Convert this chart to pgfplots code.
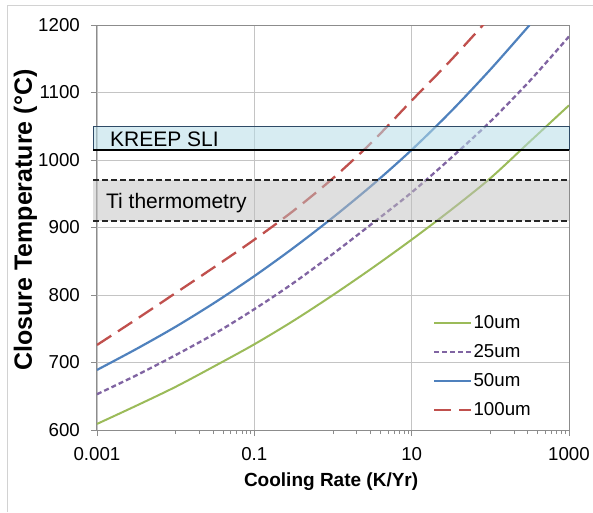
\documentclass[border=0pt]{standalone}
\usepackage{fontspec}
\setmainfont{Liberation Sans}
\usepackage{pgfplots}
\usepackage{pgfplotstable}
\pgfplotsset{compat=1.18}

\definecolor{cgreen}{HTML}{9BBB59}
\definecolor{cpurple}{HTML}{8064A2}
\definecolor{cblue}{HTML}{4F81BD}
\definecolor{cred}{HTML}{C0504D}
\definecolor{kreep}{HTML}{B7DDE8}
\definecolor{kreepedge}{HTML}{2E4A66}
\definecolor{gridc}{HTML}{C4C4C4}
\definecolor{axisc}{HTML}{8C8C8C}

% closure temperature (C) vs cooling rate (K/yr)
\pgfplotstableread{
rate    g10   p25   b50   r100
0.001   609   653   689   726
0.00316 636   681   720   764
0.01    664   711   753   803
0.0316  695   743   789   842
0.1     727   779   828   882
0.316   762   818   870   925
1       800   861   915   973
3.16    840   906   963   1027
10      882   952   1015  1088
31.6    926   1003  1072  1148
100     973   1057  1134  1212
316     1027  1117  1200  nan
1000    1081  1183  nan   nan
}\closure

\begin{document}
\begin{tikzpicture}
\useasboundingbox (-97pt,-82pt) rectangle (496pt,430pt);
\draw[gray!35, line width=0.8pt] (-90pt,-82pt) -- (-90pt,425pt) -- (496pt,425pt);
\begin{axis}[
    at={(0,0)}, anchor=south west,
    scale only axis,
    width=472pt, height=405pt,
    xmode=log,
    xmin=0.001, xmax=1000,
    ymin=600, ymax=1200,
    xtick={0.001,0.1,10,1000},
    xticklabels={0.001,0.1,10,1000},
    minor xtick={0.01,0.02,0.03,0.04,0.05,0.06,0.07,0.08,0.09,
                 1,2,3,4,5,6,7,8,9,100,200,300,400,500,600,700,800,900},
    ytick={600,700,...,1200},
    tick align=outside,
    major tick length=6pt,
    minor tick length=4pt,
    xtick pos=bottom, ytick pos=left,
    tick style={axisc, line width=0.8pt},
    axis line style={axisc, line width=1pt},
    grid=major,
    major grid style={gridc, line width=0.9pt},
    /pgf/number format/assume math mode=true,
    /pgf/number format/1000 sep={},
    ticklabel style={font=\fontsize{18.7}{22}\selectfont, inner sep=0pt},
    yticklabel style={xshift=-11pt},
    xticklabel style={yshift=-11pt},
    xlabel={\bfseries Cooling Rate (K/Yr)},
    xlabel style={at={(axis description cs:0.496,-0.106)}, anchor=north,
                  inner sep=0pt, font=\fontsize{19}{22}\selectfont},
    ylabel={\bfseries Closure Temperature (\textdegree C)},
    ylabel style={at={(axis description cs:-0.138,0.518)}, anchor=base,
                  rotate=0, inner sep=0pt, font=\fontsize{25}{28}\selectfont},
    clip mode=individual,
    legend style={draw=none, fill=none,
                  at={(axis description cs:0.712,0.285)}, anchor=north west,
                  font=\fontsize{18.7}{22}\selectfont,
                  row sep=12pt, inner sep=0pt,
                  nodes={inner sep=1pt, text height=13pt, text depth=2pt}},
    legend cell align=left,
    legend image code/.code={\draw[#1] (0pt,0pt) -- (37pt,0pt);},
]
\addplot[cgreen, line width=2pt, smooth] table[x=rate, y=g10] {\closure};
\addlegendentry{10um}
\addplot[cpurple, line width=2.3pt, smooth, dash pattern=on 5pt off 3pt] table[x=rate, y=p25] {\closure};
\addlegendentry{25um}
\addplot[cblue, line width=2.2pt, smooth] table[x=rate, y=b50] {\closure};
\addlegendentry{50um}
\addplot[cred, line width=2.3pt, smooth, dash pattern=on 17pt off 8pt] table[x=rate, y=r100] {\closure};
\addlegendentry{100um}

% KREEP SLI band
\fill[kreep, fill opacity=0.55] (axis cs:0.000897,1015) rectangle (axis cs:1000,1050);
\draw[kreepedge, line width=0.8pt] (axis cs:0.000897,1015) rectangle (axis cs:1000,1050);
\draw[black, line width=1.8pt] (axis cs:0.000897,1015) -- (axis cs:1000,1015);
\node[anchor=base west, inner sep=0pt, font=\fontsize{21}{24}\selectfont]
    at (axis cs:0.00146,1020) {KREEP SLI};

% Ti thermometry band
\fill[black!25, fill opacity=0.5] (axis cs:0.000897,910) rectangle (axis cs:1000,970);
\draw[black!85, line width=1.6pt, dash pattern=on 6pt off 3pt] (axis cs:0.000897,970) -- (axis cs:1000,970);
\draw[black!85, line width=1.6pt, dash pattern=on 6pt off 3pt] (axis cs:0.000897,910) -- (axis cs:1000,910);
\node[anchor=base west, inner sep=0pt, font=\fontsize{21}{24}\selectfont]
    at (axis cs:0.0013,928) {Ti thermometry};
\end{axis}
\end{tikzpicture}
\end{document}
